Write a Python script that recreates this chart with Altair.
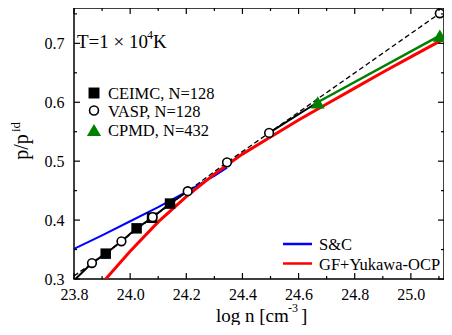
import altair as alt
import pandas as pd

# ---- data ----
ceimc_x = [23.913, 24.023, 24.078, 24.142]
ceimc_y = [0.343, 0.386, 0.404, 0.428]

vasp_x = [23.864, 23.969, 24.080, 24.205, 24.345, 24.495, 25.103]
vasp_y = [0.327, 0.364, 0.405, 0.449, 0.498, 0.548, 0.751]

cpmd_x = [24.668, 25.103]
cpmd_y = [0.600, 0.713]

# solid black connecting line (two pieces)
solid_x = [23.805, 23.864, 23.913, 23.969, 24.023, 24.078, 24.142, 24.205, 24.495, 24.668]
solid_y = [0.300, 0.327, 0.343, 0.364, 0.386, 0.404, 0.428, 0.449, 0.548, 0.600]
solid_g = [1, 1, 1, 1, 1, 1, 1, 1, 2, 2]

# dashed black line through VASP points
dash_x = [23.80, 23.864, 23.969, 24.080, 24.205, 24.345, 24.495, 25.103]
dash_y = [0.305, 0.327, 0.364, 0.405, 0.449, 0.498, 0.548, 0.751]

# S&C (blue)
sc_x = [23.80, 23.90, 24.00, 24.10, 24.20, 24.30, 24.345]
sc_y = [0.351, 0.374, 0.398, 0.422, 0.448, 0.475, 0.489]

# GF+Yukawa-OCP (red)
gf_x = [23.913, 24.0, 24.1, 24.2, 24.3, 24.4, 24.5, 24.6, 24.7, 24.8, 24.9, 25.0, 25.1, 25.15]
gf_y = [0.300, 0.347, 0.397, 0.440, 0.478, 0.512, 0.541, 0.570, 0.597, 0.624, 0.651, 0.677, 0.703, 0.714]

x_major = [23.8, 24.0, 24.2, 24.4, 24.6, 24.8, 25.0]
x_minor = [23.9, 24.1, 24.3, 24.5, 24.7, 24.9, 25.1]
y_major = [0.3, 0.4, 0.5, 0.6, 0.7]
y_minor = [0.35, 0.45, 0.55, 0.65, 0.75]

top_legend = ["CEIMC, N=128", "VASP, N=128", "CPMD, N=432"]
bottom_legend = ["S&C", "GF+Yukawa-OCP"]

W, H = 370, 271
FONT = "Liberation Serif"

xs = alt.Scale(domain=[23.8, 25.118], nice=False, zero=False)
ys = alt.Scale(domain=[0.3, 0.76], nice=False, zero=False)

xax = alt.Axis(values=x_major, format=".1f", tickSize=0, domain=False, grid=False,
               labelFont=FONT, labelFontSize=16, labelColor="black", labelPadding=7,
               labelFlush=False, title=None)
yax = alt.Axis(values=y_major, format=".1f", tickSize=0, domain=False, grid=False,
               labelFont=FONT, labelFontSize=16, labelColor="black", labelPadding=10,
               labelFlush=False, title=None)

X = lambda: alt.X("x:Q", scale=xs, axis=xax)
Y = lambda: alt.Y("y:Q", scale=ys, axis=yax)

def df(x, y, **kw):
    d = pd.DataFrame({"x": x, "y": y})
    for k, v in kw.items():
        d[k] = v
    return d

blue = alt.Chart(df(sc_x, sc_y)).mark_line(color="#0000ff", strokeWidth=2).encode(x=X(), y=Y())
red = alt.Chart(df(gf_x, gf_y)).mark_line(color="#ff0000", strokeWidth=3, clip=True).encode(x=X(), y=Y())
green = alt.Chart(df(cpmd_x, cpmd_y)).mark_line(color="#008000", strokeWidth=2.5).encode(x=X(), y=Y())
solid = alt.Chart(df(solid_x, solid_y, g=solid_g)).mark_line(color="black", strokeWidth=2).encode(
    x=X(), y=Y(), detail="g:N")
dashed = alt.Chart(df(dash_x, dash_y)).mark_line(color="black", strokeWidth=1.3, strokeDash=[5, 3]).encode(
    x=X(), y=Y())

sq = alt.Chart(df(ceimc_x, ceimc_y)).mark_point(shape="square", filled=True, color="black", size=110, opacity=1).encode(
    x=X(), y=Y())
circ = alt.Chart(df(vasp_x, vasp_y)).mark_point(shape="circle", filled=True, fill="white", stroke="black",
                                                 strokeWidth=1.6, size=75, opacity=1).encode(x=X(), y=Y())
tri = alt.Chart(df(cpmd_x, cpmd_y)).mark_point(shape="triangle-up", filled=True, color="#008000", size=200,
                                                opacity=1).encode(x=X(), y=Y())

# inward ticks (drawn at tick values through the shared scales)
def tick_layer(vals, axis, length):
    layers = []
    if axis == "x":
        d = pd.DataFrame({"x": vals})
        layers.append(alt.Chart(d).mark_rule(color="black", strokeWidth=1.2).encode(
            x=X(), y=alt.value(H), y2=alt.value(H - length)))
        layers.append(alt.Chart(d).mark_rule(color="black", strokeWidth=1.2).encode(
            x=X(), y=alt.value(0), y2=alt.value(length)))
    else:
        d = pd.DataFrame({"y": vals})
        layers.append(alt.Chart(d).mark_rule(color="black", strokeWidth=1.2).encode(
            y=Y(), x=alt.value(0), x2=alt.value(length)))
        layers.append(alt.Chart(d).mark_rule(color="black", strokeWidth=1.2).encode(
            y=Y(), x=alt.value(W), x2=alt.value(W - length)))
    return layers

ticks = (tick_layer(x_major, "x", 6) + tick_layer(x_minor, "x", 3)
         + tick_layer(y_major, "y", 6) + tick_layer(y_minor, "y", 3))

one = pd.DataFrame({"d": [0]})

def txt(s, x, y, size, align="left", baseline="alphabetic", angle=0):
    kw = dict(font=FONT, fontSize=size, align=align, baseline=baseline, color="black")
    if angle:
        kw["angle"] = angle
    return alt.Chart(pd.DataFrame({"t": [s]})).mark_text(**kw).encode(
        text="t:N", x=alt.value(x), y=alt.value(y))

# top-left legend
leg_y = [85, 102.5, 122]
leg_marks = [
    alt.Chart(one).mark_point(shape="square", filled=True, color="black", size=120, opacity=1).encode(
        x=alt.value(20), y=alt.value(leg_y[0])),
    alt.Chart(one).mark_point(shape="circle", filled=True, fill="white", stroke="black", strokeWidth=1.6,
                              size=80, opacity=1).encode(x=alt.value(20), y=alt.value(leg_y[1])),
    alt.Chart(one).mark_point(shape="triangle-up", filled=True, color="#008000", size=200, opacity=1).encode(
        x=alt.value(20), y=alt.value(leg_y[2])),
]
leg_texts = [txt(top_legend[i], 34, leg_y[i] + 6, 16.5) for i in range(3)]

# bottom-right legend
bl_y = [236, 255.5]
bl_cols = ["#0000ff", "#ff0000"]
bl_lines = [alt.Chart(one).mark_rule(color=bl_cols[i], strokeWidth=2.5).encode(
    x=alt.value(209), x2=alt.value(238), y=alt.value(bl_y[i])) for i in range(2)]
bl_texts = [txt(bottom_legend[i], 245, bl_y[i] + 6, 16.5) for i in range(2)]

# annotations / titles
annots = [
    txt("T=1 × 10", 3, 40, 19),
    txt("4", 73, 31, 12),
    txt("K", 79, 40, 19),
    txt("log n [cm", 142, 314, 19),
    txt("-3", 214, 304, 12),
    txt("]", 227, 314, 19),
    txt("p/p", -46, 139, 20, align="center", angle=270),
    txt("id", -54.5, 119, 13, align="center", angle=270),
]

chart = alt.layer(
    blue, red, green, solid, dashed, sq, circ, tri,
    *ticks, *leg_marks, *leg_texts, *bl_lines, *bl_texts, *annots
).properties(
    width=W, height=H, padding={"left": 66, "top": 0, "right": 0, "bottom": 46}
).configure(
    autosize="none"
).configure_view(
    stroke="black", strokeWidth=1.5
)

chart.save("out.html", embed_options={"renderer": "svg", "actions": False})
